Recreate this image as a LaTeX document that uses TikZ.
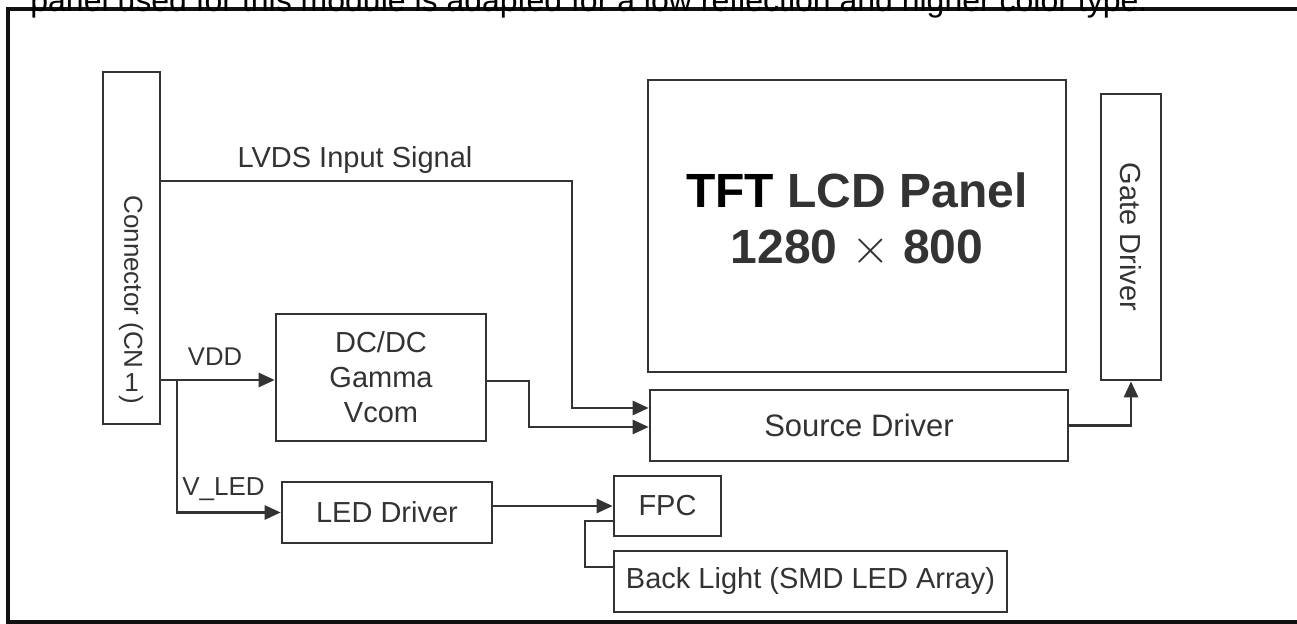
\documentclass[tikz,border=0pt]{standalone}
\usepackage{fontspec}
\setmainfont{Liberation Sans}
\usetikzlibrary{positioning,arrows.meta,calc}
\definecolor{ink}{HTML}{333333}
\definecolor{rim}{HTML}{111111}

\begin{document}
\begin{tikzpicture}[x=0.5pt, y=-0.5pt, >={Triangle[length=8pt,width=7pt]},
    font=\fontsize{14.5}{17.5}\selectfont,
    blk/.style={draw=ink, line width=1.3pt, inner sep=0pt},
    wire/.style={draw=ink, line width=1.3pt},
    txt/.style={text=ink, inner sep=0pt},
    big/.style={txt, font=\fontsize{24}{29}\selectfont\bfseries}]
  \useasboundingbox (0,0) rectangle (1297,624);

  % page frame and the cut-off line above it
  \draw[rim, line width=1.6pt] (1297,9) -- (8,9) -- (8,622) -- (1297,622);
  \node[text=black, inner sep=0pt, anchor=base west, font=\fontsize{16}{18}\selectfont]
    (toptext) at (30,12)
    {panel used for this module is adapted for a low reflection and higher color type.};

  % blocks
  \node[blk, minimum width=28.5pt, minimum height=176pt] (conn) at (131.5,248) {};
  \node[txt, rotate=-90, anchor=west, font=\fontsize{13}{15}\selectfont] (connlbl) at (131,195)
    {Connector (CN\,\rotatebox{90}{1}\,)};
  \node[blk, minimum width=209pt, minimum height=146pt] (panel) at (857,226) {};
  \node[big] (paneltop) at (857,190) {\textcolor{black}{TFT} LCD Panel};
  \node[big] (panelres) at (857,249) {1280 {\mdseries$\times$} 800};
  \node[blk, minimum width=30pt, minimum height=143pt] (gate) at (1131,237) {};
  \node[txt, rotate=-90] (gatelbl) at (gate.center) {Gate Driver};
  \node[blk, minimum width=105pt, minimum height=63.5pt, align=center, text=ink]
    (dcdc) at (381,377.5) {DC/DC\\Gamma\\Vcom};
  \node[blk, minimum width=209pt, minimum height=35.5pt, text=ink,
    font=\fontsize{15.5}{18}\selectfont] (src) at (859,425.5) {Source Driver};
  \node[blk, minimum width=105pt, minimum height=30.5pt, text=ink] (led) at (387,512.5) {LED Driver};
  \node[blk, minimum width=53.5pt, minimum height=30pt, text=ink] (fpc) at (667.5,506) {FPC};
  \node[blk, minimum width=196.5pt, minimum height=30.5pt, text=ink] (back) at (810.5,581.5)
    {Back Light (SMD LED Array)};

  % signal labels
  \node[txt] (lvdslbl) at (355,160) {LVDS Input Signal};
  \node[txt, font=\fontsize{12.8}{15}\selectfont] (vddlbl) at (215,357) {VDD};
  \node[txt, font=\fontsize{13}{15}\selectfont] (vledlbl) at (223.5,489) {V\_LED};

  % connections
  \coordinate (split) at (177,380);
  \draw[wire, ->] (conn.east |- 0,181) -| (572,408) -- (src.west |- 0,408);
  \draw[wire, ->] (conn.east |- split) -- (dcdc.west |- split);
  \draw[wire, ->] (split) |- (led.west);
  \draw[wire, ->] (dcdc.east |- 0,381) -| (529,427) -- (src.west |- 0,427);
  \draw[wire, ->] (src.east) -| (gate.south);
  \draw[wire, ->] (led.east |- fpc.west) -- (fpc.west);
  \draw[wire] (fpc.west |- 0,521) -| (585,567) -- (back.west |- 0,567);
\end{tikzpicture}
\end{document}
